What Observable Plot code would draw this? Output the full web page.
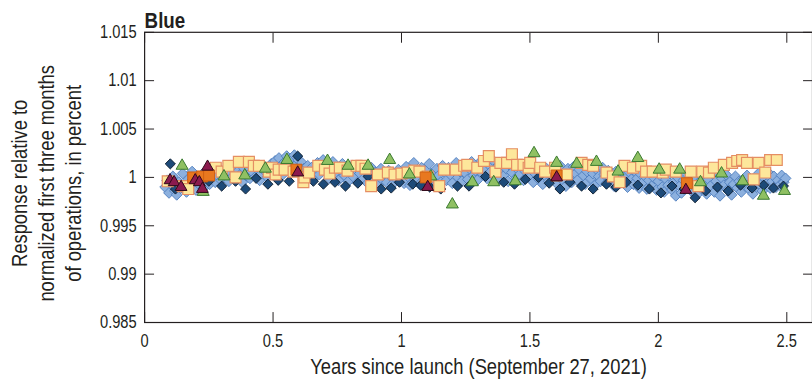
<!DOCTYPE html>
<html><head><meta charset="utf-8">
<script src="https://cdn.jsdelivr.net/npm/d3@7"></script>
<script src="https://cdn.jsdelivr.net/npm/@observablehq/plot@0.6"></script>
<style>
html,body{margin:0;padding:0;background:#fff;overflow:hidden;}
</style></head><body><div id="chart"></div>
<script>
const panelTitle = "Blue";
const xTitle = "Years since launch (September 27, 2021)";
const yTitleLines = ["Response relative to", "normalized first three months", "of operations, in percent"];
const xTicks = [0, 0.5, 1, 1.5, 2, 2.5];
const xTickLabels = ["0", "0.5", "1", "1.5", "2", "2.5"];
const yTicks = [0.985, 0.99, 0.995, 1, 1.005, 1.01, 1.015];
const yTickLabels = ["0.985", "0.99", "0.995", "1", "1.005", "1.01", "1.015"];

// light blue diamonds (dense series)
const lightBlue = [
[0.080,0.9990],[0.088,0.9997],[0.095,0.9984],[0.103,0.9993],[0.110,1.0001],[0.118,0.9986],[0.125,0.9982],[0.133,0.9995],[0.140,0.9989],[0.148,1.0004],
[0.155,0.9991],[0.163,0.9985],[0.170,0.9998],[0.178,0.9990],[0.185,1.0006],[0.193,0.9994],[0.200,0.9987],[0.208,0.9999],[0.215,0.9992],[0.223,1.0003],
[0.230,0.9989],[0.238,0.9996],[0.245,1.0005],[0.253,0.9993],[0.260,0.9999],
[0.268,1.0006],[0.275,0.9995],[0.283,1.0002],[0.290,1.0009],[0.298,0.9997],[0.305,1.0004],[0.313,1.0000],[0.320,1.0010],[0.328,0.9996],[0.335,1.0005],
[0.343,1.0001],[0.350,1.0012],[0.358,0.9998],[0.365,1.0007],[0.373,1.0003],[0.380,0.9995],[0.388,1.0009],[0.395,1.0002],[0.403,1.0011],[0.410,0.9999],
[0.418,1.0006],[0.425,1.0013],[0.433,1.0001],[0.440,1.0008],[0.448,0.9997],[0.455,1.0004],[0.463,1.0012],[0.470,1.0006],[0.478,1.0000],[0.485,1.0010],
[0.493,1.0014],[0.500,1.0005],[0.508,1.0017],[0.515,1.0009],[0.523,1.0020],[0.530,1.0012],[0.538,1.0003],[0.545,1.0016],[0.553,1.0022],[0.560,1.0010],
[0.568,1.0019],[0.575,1.0007],[0.583,1.0023],[0.590,1.0013],[0.598,1.0018],[0.605,1.0006],[0.613,1.0015],[0.620,1.0009],[0.628,1.0002],[0.635,1.0012],
[0.643,1.0005],[0.650,1.0010],[0.658,0.9999],
[0.665,1.0008],[0.673,1.0015],[0.680,1.0003],[0.688,1.0011],[0.695,1.0018],[0.703,1.0006],[0.710,1.0013],[0.718,0.9999],[0.725,1.0009],[0.733,1.0016],
[0.740,1.0004],[0.748,1.0010],[0.755,0.9997],[0.763,1.0007],[0.770,1.0014],[0.778,1.0002],[0.785,1.0009],[0.793,0.9996],[0.800,1.0005],[0.808,1.0012],
[0.815,1.0000],[0.823,1.0008],[0.830,0.9995],[0.838,1.0004],[0.845,1.0011],[0.853,0.9999],[0.860,1.0006],[0.868,0.9994],[0.875,1.0003],[0.883,1.0010],
[0.890,0.9998],[0.898,1.0005],[0.905,0.9993],[0.913,1.0002],[0.920,1.0009],[0.928,0.9997],[0.935,1.0004],[0.943,0.9995],[0.950,1.0007],[0.958,1.0001],
[0.965,0.9993],[0.973,1.0003],[0.980,0.9998],[0.988,1.0008],[0.995,0.9996],
[1.003,1.0004],[1.010,0.9994],[1.018,1.0011],[1.025,1.0001],[1.033,0.9992],[1.040,1.0007],[1.048,1.0015],[1.055,0.9998],[1.063,1.0005],[1.070,0.9993],
[1.078,1.0010],[1.085,1.0002],[1.093,0.9996],[1.100,1.0008],[1.108,1.0014],[1.115,0.9999],[1.123,1.0004],[1.130,0.9991],[1.138,1.0009],[1.145,1.0002],
[1.153,0.9995],[1.160,1.0012],[1.168,1.0005],[1.175,0.9997],[1.183,1.0010],[1.190,1.0003],[1.198,0.9994],[1.205,1.0007],[1.213,1.0015],[1.220,1.0000],
[1.228,1.0006],[1.235,0.9996],[1.243,1.0011],[1.250,1.0004],[1.258,0.9998],[1.265,1.0009],[1.273,1.0016],[1.280,1.0002],[1.288,1.0007],[1.295,0.9997],
[1.303,1.0010],[1.310,1.0017],[1.318,1.0003],[1.325,1.0008],[1.333,0.9999],[1.340,1.0013],[1.348,1.0006],[1.355,1.0018],[1.363,1.0001],[1.370,1.0010],
[1.378,0.9997],[1.385,1.0007],[1.393,1.0014],[1.400,1.0002],[1.408,1.0009],[1.415,0.9996],[1.423,1.0012],[1.430,1.0005],[1.438,1.0016],[1.445,0.9999],
[1.453,1.0008],[1.460,1.0003],[1.468,1.0013],[1.475,0.9997],[1.483,1.0006],[1.490,1.0011],[1.498,1.0000],[1.505,1.0008],[1.513,0.9995],[1.520,1.0004],
[1.528,1.0010],[1.535,0.9998],[1.543,1.0006],[1.550,0.9993],[1.558,1.0002],[1.565,1.0009],[1.573,0.9996],[1.580,1.0004],[1.588,0.9999],[1.595,1.0007],
[1.603,0.9994],[1.610,1.0005],[1.618,1.0012],[1.625,0.9998],[1.633,1.0003],[1.640,0.9991],[1.648,1.0009],[1.655,1.0001],[1.663,0.9995],[1.670,1.0011],
[1.678,1.0004],[1.685,0.9997],[1.693,1.0008],[1.700,1.0015],[1.708,1.0002],[1.715,0.9993],[1.723,1.0006],[1.730,1.0012],[1.738,0.9999],[1.745,1.0004],
[1.753,0.9992],[1.760,1.0008],[1.768,1.0001],[1.775,0.9996],[1.783,1.0010],[1.790,1.0003],[1.798,0.9994],[1.805,1.0007],[1.813,0.9999],[1.820,1.0004],
[1.828,0.9991],[1.835,1.0006],[1.843,1.0000],[1.850,0.9994],[1.858,1.0008],[1.865,0.9997],[1.873,1.0002],[1.880,0.9990],[1.888,1.0005],[1.895,0.9998],
[1.903,0.9993],[1.910,1.0006],[1.918,0.9999],[1.925,0.9989],[1.933,1.0003],[1.940,0.9995],[1.948,1.0001],[1.955,0.9988],[1.963,0.9997],[1.970,1.0004],
[1.978,0.9992],[1.985,0.9999],[1.993,0.9987],
[2.000,0.9996],[2.008,1.0002],[2.015,0.9990],[2.023,0.9985],[2.030,0.9998],[2.038,0.9992],[2.045,1.0004],[2.053,0.9987],[2.060,0.9995],[2.068,0.9981],
[2.075,1.0000],[2.083,0.9991],[2.090,0.9984],[2.098,0.9997],[2.105,0.9989],[2.113,1.0003],[2.120,0.9993],[2.128,0.9986],[2.135,0.9999],[2.143,0.9990],
[2.150,0.9982],[2.158,0.9995],[2.165,1.0002],[2.173,0.9988],[2.180,0.9994],[2.188,0.9983],[2.195,0.9998],[2.203,0.9991],[2.210,1.0004],[2.218,0.9985],
[2.225,0.9996],[2.233,0.9989],[2.240,0.9981],[2.248,0.9999],[2.255,0.9992],[2.263,1.0003],[2.270,0.9987],[2.278,0.9995],[2.285,0.9982],[2.293,0.9993],
[2.300,1.0001],[2.308,0.9989],[2.315,0.9996],[2.323,0.9985],[2.330,0.9998],[2.338,0.9991],[2.345,1.0002],[2.353,0.9988],[2.360,0.9994],[2.368,0.9983],
[2.375,0.9997],[2.383,0.9990],[2.390,1.0004],[2.398,0.9992],[2.405,0.9986],[2.413,0.9999],[2.420,0.9993],[2.428,1.0005],[2.435,0.9989],[2.443,0.9996],
[2.450,1.0001],[2.458,0.9990],[2.465,0.9997],[2.473,0.9992],[2.480,1.0002],[2.488,0.9995],[2.495,0.9999]
];

// navy diamonds
const navy = [
[0.100,1.0014],[0.120,0.9988],[0.170,0.9993],[0.250,0.9996],[0.300,0.9991],[0.354,0.9996],[0.393,0.9988],[0.434,0.9999],[0.480,0.9993],[0.520,0.9997],
[0.563,0.9996],[0.596,1.0022],[0.657,0.9996],[0.696,0.9993],[0.741,0.9995],[0.782,0.9991],[0.830,0.9994],[0.870,1.0001],[0.921,0.9988],[0.960,0.9989],
[0.992,0.9995],[1.044,0.9993],[1.075,0.9992],[1.110,0.9990],[1.153,0.9988],[1.218,0.9991],[1.263,0.9991],[1.327,1.0001],[1.398,0.9995],[1.440,0.9993],
[1.482,0.9998],[1.533,1.0000],[1.575,0.9994],[1.617,0.9988],[1.656,0.9995],[1.701,0.9991],[1.746,0.9988],[1.798,0.9993],[1.835,0.9990],[1.875,0.9995],
[1.920,0.9992],[1.965,0.9988],[2.010,0.9984],[2.053,0.9991],[2.100,0.9988],[2.143,0.9979],[2.184,0.9986],[2.230,0.9990],[2.272,0.9986],[2.320,0.9992],
[2.365,0.9989],[2.410,0.9992],[2.448,0.9989],[2.487,0.9991]
];

// light yellow squares
const yellow = [
[0.090,0.9996],[0.148,0.9991],[0.170,0.9988],[0.277,1.0010],[0.300,1.0006],[0.326,1.0012],[0.354,1.0000],[0.367,1.0016],[0.406,1.0016],[0.425,1.0012],
[0.445,1.0012],[0.483,1.0006],[0.496,1.0010],[0.510,1.0003],[0.522,1.0008],[0.545,1.0008],[0.580,1.0006],[0.618,0.9995],[0.622,1.0000],[0.640,1.0005],
[0.676,1.0012],[0.702,1.0008],[0.720,1.0004],[0.741,1.0010],[0.760,1.0010],[0.790,1.0007],[0.825,1.0012],[0.844,1.0012],[0.860,1.0009],[0.882,0.9991],
[0.908,1.0003],[0.947,1.0005],[0.973,1.0003],[1.000,1.0004],[1.024,1.0005],[1.050,1.0007],[1.070,1.0006],[1.102,1.0001],[1.147,0.9991],[1.166,1.0008],
[1.211,1.0008],[1.244,1.0012],[1.256,1.0013],[1.295,1.0010],[1.321,1.0017],[1.340,1.0022],[1.366,1.0006],[1.385,1.0015],[1.411,1.0015],[1.430,1.0024],
[1.450,1.0013],[1.475,1.0013],[1.495,1.0010],[1.501,1.0015],[1.540,1.0010],[1.559,1.0006],[1.598,1.0010],[1.643,1.0003],[1.701,1.0015],[1.727,1.0013],
[1.746,1.0012],[1.798,1.0005],[1.823,1.0001],[1.849,0.9995],[1.868,1.0012],[1.901,1.0010],[1.933,1.0012],[1.952,1.0006],[1.978,1.0006],[2.017,1.0005],
[2.029,1.0008],[2.068,1.0006],[2.126,1.0006],[2.156,0.9991],[2.171,1.0006],[2.197,1.0005],[2.216,1.0010],[2.255,1.0013],[2.287,1.0015],[2.307,1.0017],
[2.326,1.0018],[2.345,1.0015],[2.371,0.9998],[2.390,1.0015],[2.416,1.0005],[2.435,1.0018],[2.461,1.0018]
];

// green triangles
const green = [
[0.146,1.0012],[0.228,0.9985],[0.309,1.0001],[0.390,1.0002],[0.470,1.0009],[0.554,1.0018],[0.712,1.0017],[0.792,1.0012],[0.870,1.0012],[0.954,1.0018],
[1.031,1.0003],[1.114,1.0001],[1.198,0.9972],[1.276,0.9995],[1.359,0.9995],[1.443,0.9996],[1.516,1.0025],[1.604,1.0015],[1.682,1.0014],[1.759,1.0016],
[1.843,1.0006],[1.920,1.0020],[2.003,1.0008],[2.083,1.0008],[2.164,0.9995],[2.246,1.0004],[2.328,0.9996],[2.409,0.9981],[2.491,0.9986]
];

// orange squares
const orange = [
[0.189,1.0000],[0.224,1.0001],[0.251,1.0002],[0.591,1.0008],[1.094,1.0000],[1.604,1.0002],[2.111,0.9994]
];

// maroon triangles
const maroon = [
[0.099,0.9997],[0.115,0.9995],[0.142,0.9990],[0.197,0.9997],[0.213,0.9995],[0.225,0.9988],[0.245,1.0011],
[0.596,1.0005],[1.102,0.9990],[1.604,1.0000],[2.107,0.9987]
];

const FONT = '"Liberation Sans", Arial, sans-serif';
const INK = "#231f20";
const px = d => d[0], py = d => d[1];

const chart = Plot.plot({
  width: 817,
  height: 382,
  marginTop: 32,
  marginBottom: 58,
  marginLeft: 145,
  marginRight: 0,
  style: {fontFamily: FONT, fontSize: "18px", color: INK, background: "#fff", overflow: "visible"},
  x: {domain: [0, 2.6]},
  y: {domain: [0.985, 1.015]},
  marks: [
    Plot.dot(lightBlue, {x: px, y: py, symbol: "diamond2", r: 4.9, fill: "#8cb0de", stroke: "#4d7dbd", strokeWidth: 0.9}),
    Plot.dot(navy, {x: px, y: py, symbol: "diamond2", r: 4.6, fill: "#1d4a78", stroke: "#0a1a2c", strokeWidth: 0.9}),
    Plot.dot(yellow, {x: px, y: py, symbol: "square", r: 6.2, fill: "#fde79b", stroke: "#e58e63", strokeWidth: 1.2}),
    Plot.dot(green, {x: px, y: py, symbol: "triangle", r: 4.5, fill: "#8fc062", stroke: "#3a7a30", strokeWidth: 1}),
    Plot.dot(orange, {x: px, y: py, symbol: "square", r: 6.2, fill: "#e8781f", stroke: "#d05f12", strokeWidth: 1}),
    Plot.dot(maroon, {x: px, y: py, symbol: "triangle", r: 4.4, fill: "#8b1a4e", stroke: "#2e0818", strokeWidth: 1}),
    Plot.frame({stroke: INK, strokeWidth: 1.2}),
    Plot.axisX(xTicks, {anchor: "bottom", tickSize: -10, tickPadding: 22, label: null, stroke: INK,
      tickFormat: d => xTickLabels[xTicks.indexOf(d)], fontSize: 18}),
    Plot.axisX(xTicks, {anchor: "top", tickSize: -10, text: null, label: null, stroke: INK}),
    Plot.axisY(yTicks, {anchor: "left", tickSize: -10, tickPadding: 18, label: null, stroke: INK,
      tickFormat: d => yTickLabels[yTicks.indexOf(d)], fontSize: 18}),
    Plot.axisY(yTicks, {anchor: "right", tickSize: -10, text: null, label: null, stroke: INK}),
    Plot.text([panelTitle], {frameAnchor: "top-left", textAnchor: "start", lineAnchor: "bottom", dy: -4,
      fontSize: 23, fontWeight: "bold", fill: INK}),
    Plot.text([yTitleLines.join("\n")], {frameAnchor: "left", rotate: -90, dx: -100, dy: 6, textAnchor: "middle",
      lineAnchor: "middle", lineHeight: 1.2, fontSize: 22.5, fill: INK}),
    Plot.text([xTitle], {frameAnchor: "bottom", dy: 45, lineAnchor: "middle", fontSize: 22.5, fill: INK})
  ]
});
document.getElementById("chart").appendChild(chart);

// condense the lettering (the original uses a condensed typeface)
chart.querySelectorAll("text").forEach(t => {
  const spans = t.querySelectorAll("tspan");
  const targets = spans.length ? Array.from(spans) : [t];
  targets.forEach(el => {
    const L = el.getComputedTextLength();
    if (L > 0) {
      el.setAttribute("textLength", (L * 0.82).toFixed(2));
      el.setAttribute("lengthAdjust", "spacingAndGlyphs");
    }
  });
});
</script></body></html>
